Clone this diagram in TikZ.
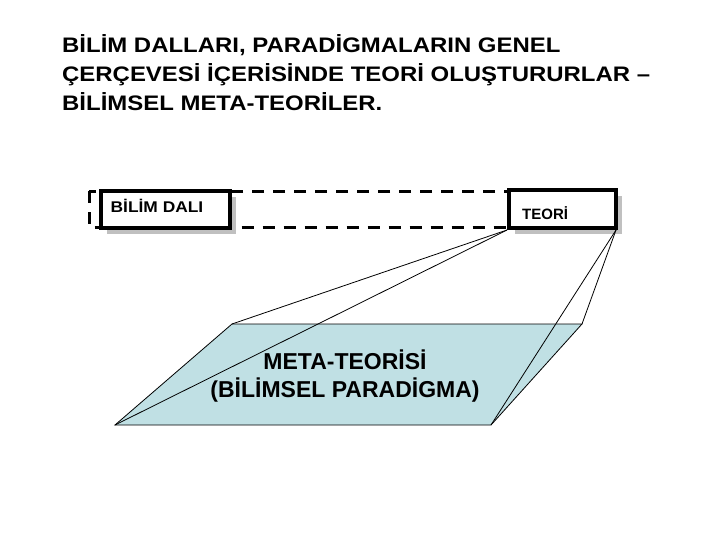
\documentclass[tikz,border=0pt]{standalone}
\usepackage{fontspec}
\setmainfont{Liberation Sans}
\newfontfamily\widefont[FakeStretch=1.14]{Liberation Sans}
\newfontfamily\semiwidefont[FakeStretch=1.12]{Liberation Sans}
\usetikzlibrary{shadows}
\definecolor{parafill}{HTML}{C0E0E4}
\definecolor{shadegray}{HTML}{C0C0C0}
\begin{document}
\begin{tikzpicture}[x=1pt,y=-1pt,
  boxstyle/.style={draw=black, line width=4pt, fill=white, inner sep=0pt,
    drop shadow={shadow xshift=6pt, shadow yshift=-6pt, fill=shadegray, opacity=1}},
  dashline/.style={draw=black, line width=3pt, dash pattern=on 12pt off 9pt},
  thinline/.style={draw=black, line width=0.8pt},
  smalllab/.style={inner sep=0pt, anchor=base west, font=\bfseries\fontsize{15}{18}\selectfont}]
\useasboundingbox (0,0) rectangle (720,540);
% title
\node[anchor=base west, align=left, inner sep=0pt,
  font=\widefont\bfseries\fontsize{21}{29}\selectfont] (title) at (62,111)
  {BİLİM DALLARI, PARADİGMALARIN GENEL\\ÇERÇEVESİ İÇERİSİNDE TEORİ OLUŞTURURLAR –\\BİLİMSEL META-TEORİLER.};
% dashed frame
\coordinate (dtl) at (89,191.5);
\coordinate (dbr) at (560,228);
\draw[dashline] (dtl) rectangle (dbr);
% boxes
\node[boxstyle, minimum width=129pt, minimum height=37pt] (dali) at (165.5,209.5) {};
\node[smalllab, font=\semiwidefont\bfseries\fontsize{15.5}{18}\selectfont] (daliT) at (110.5,212.5) {BİLİM DALI};
\node[boxstyle, minimum width=107pt, minimum height=38pt] (teori) at (562.5,209) {};
\node[smalllab] (teoriT) at (522,219) {TEORİ};
% parallelogram
\coordinate (p1) at (232,324);
\coordinate (p2) at (582,324);
\coordinate (p3) at (491,425);
\coordinate (p4) at (115,425);
\draw[thinline, fill=parafill] (p1) -- (p2) -- (p3) -- (p4) -- cycle;
\node[align=center, inner sep=0pt, font=\bfseries\fontsize{23}{28}\selectfont] (meta) at (345,376)
  {META-TEORİSİ\\(BİLİMSEL PARADİGMA)};
% connectors
\draw[thinline] (teori.south west) -- (p1);
\draw[thinline] (teori.south west) -- (p4);
\draw[thinline] ([xshift=-2pt]teori.south east) -- (p2);
\draw[thinline] ([xshift=-2pt]teori.south east) -- (p3);
\end{tikzpicture}
\end{document}
